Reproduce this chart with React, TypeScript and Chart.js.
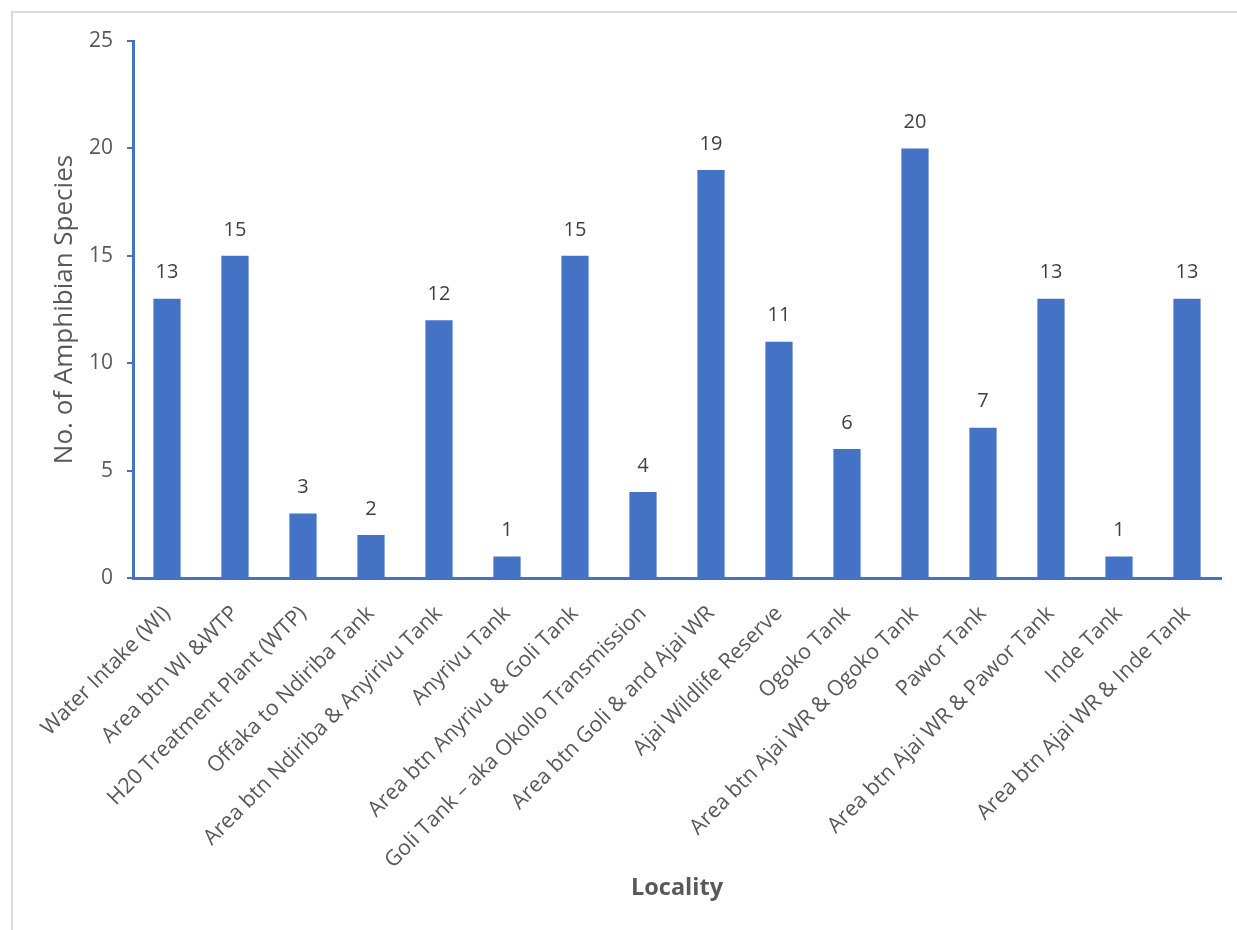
import React, { useEffect, useRef } from "react";
import { Chart, registerables } from "chart.js";

Chart.register(...registerables);

const categories: string[] = [
  "Water Intake (WI)",
  "Area btn WI &WTP",
  "H20 Treatment Plant (WTP)",
  "Offaka to Ndiriba Tank",
  "Area btn Ndiriba & Anyirivu Tank",
  "Anyrivu Tank",
  "Area btn Anyrivu & Goli Tank",
  "Goli Tank – aka Okollo Transmission",
  "Area btn Goli & and Ajai WR",
  "Ajai Wildlife Reserve",
  "Ogoko Tank",
  "Area btn Ajai WR & Ogoko Tank",
  "Pawor Tank",
  "Area btn Ajai WR & Pawor Tank",
  "Inde Tank",
  "Area btn Ajai WR & Inde Tank",
];

const speciesCounts: number[] = [13, 15, 3, 2, 12, 1, 15, 4, 19, 11, 6, 20, 7, 13, 1, 13];

const yTicks: number[] = [0, 5, 10, 15, 20, 25];

const FONT = "'Open Sans', 'Noto Sans', sans-serif";
const BLUE = "#4472C4";
const GREY = "#595959";

const valueLabels = {
  id: "valueLabels",
  afterDatasetsDraw(chart: any) {
    const ctx = chart.ctx;
    const meta = chart.getDatasetMeta(0);
    ctx.save();
    ctx.font = `20px ${FONT}`;
    ctx.fillStyle = "#404040";
    ctx.textAlign = "center";
    ctx.textBaseline = "middle";
    meta.data.forEach((bar: any, i: number) => {
      ctx.fillText(String(speciesCounts[i]), bar.x, bar.y - 26);
    });
    ctx.restore();
  },
};

export default function App() {
  const ref = useRef<HTMLCanvasElement | null>(null);

  useEffect(() => {
    if (!ref.current) return;
    const chart = new Chart(ref.current, {
      type: "bar",
      data: {
        labels: categories,
        datasets: [
          {
            data: speciesCounts,
            backgroundColor: BLUE,
            borderWidth: 0,
            barPercentage: 0.4,
            categoryPercentage: 1,
          },
        ],
      },
      options: {
        animation: false,
        responsive: false,
        maintainAspectRatio: false,
        layout: { padding: { left: 49, top: 41, right: 16, bottom: 20 } },
        plugins: {
          legend: { display: false },
          tooltip: { enabled: false },
        },
        scales: {
          x: {
            grid: { display: false },
            border: { display: true, color: BLUE, width: 3 },
            ticks: {
              autoSkip: false,
              minRotation: 45,
              maxRotation: 45,
              color: GREY,
              padding: 15,
              font: { family: FONT, size: 21.5 },
            },
            title: {
              display: true,
              text: "Locality",
              color: GREY,
              padding: { top: 0, bottom: 8 },
              font: { family: FONT, size: 23.5, weight: "bold" },
            },
            afterFit: (scale: any) => {
              scale.height = 332;
            },
          },
          y: {
            min: 0,
            max: 25,
            afterBuildTicks: (scale: any) => {
              scale.ticks = yTicks.map((v) => ({ value: v }));
            },
            grid: {
              display: true,
              drawOnChartArea: false,
              drawTicks: true,
              tickLength: 6,
              color: BLUE,
              lineWidth: 2,
            },
            border: { display: true, color: BLUE, width: 3 },
            ticks: {
              color: GREY,
              padding: 14,
              font: { family: FONT, size: 21 },
            },
            title: {
              display: true,
              text: "No. of Amphibian Species",
              color: GREY,
              padding: { top: 0, bottom: 0 },
              font: { family: FONT, size: 26 },
            },
            afterFit: (scale: any) => {
              scale.width = 84;
            },
          },
        },
      },
      plugins: [valueLabels],
    });
    return () => chart.destroy();
  }, []);

  return (
    <div style={{ position: "fixed", left: 0, top: 0, width: 1237, height: 930, overflow: "hidden", background: "#fff" }}>
      <div
        style={{
          position: "absolute",
          left: 11,
          top: 11,
          width: 1300,
          height: 1000,
          borderLeft: "2px solid #d9d9d9",
          borderTop: "2px solid #d9d9d9",
        }}
      />
      <canvas
        ref={ref}
        width={1237}
        height={930}
        style={{ position: "absolute", left: 0, top: 0, width: 1237, height: 930 }}
      />
    </div>
  );
}
